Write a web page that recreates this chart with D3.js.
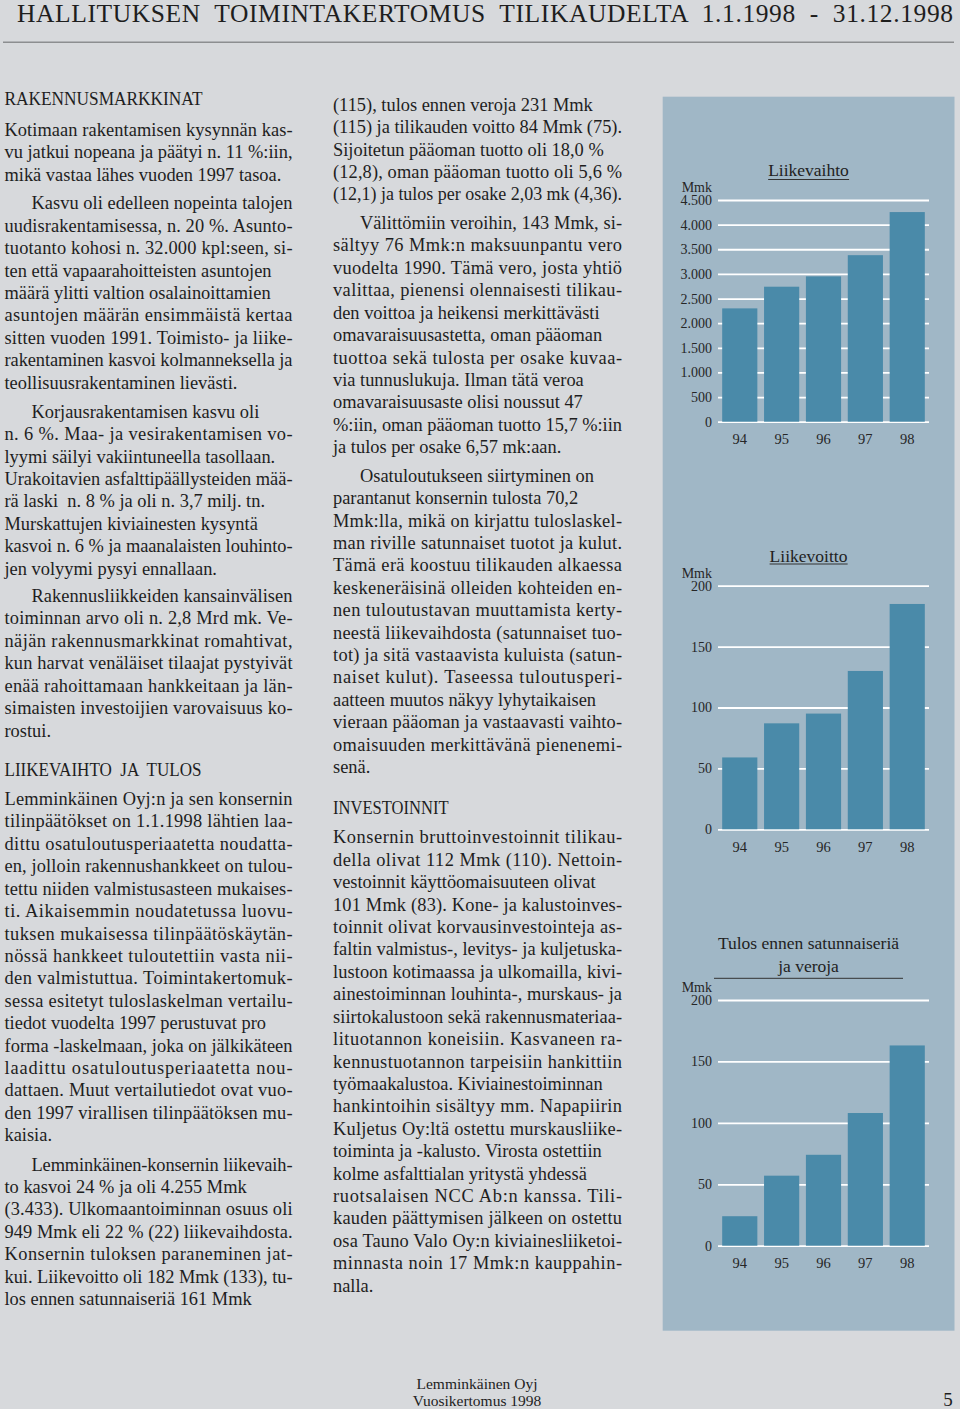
<!DOCTYPE html>
<html><head><meta charset="utf-8">
<script src="https://cdn.jsdelivr.net/npm/d3@7"></script>
<style>html,body{margin:0;padding:0;background:#d7d9dc;}svg{display:block}</style>
</head><body><svg id="c" width="960" height="1409"></svg>
<script>
// ---------- chart data ----------
const years = ["94", "95", "96", "97", "98"];
const liikevaihto = [2300, 2740, 2950, 3380, 4255];
const liikevoitto = [59, 87, 95, 130, 185];
const tulosEnnen = [24, 57, 74, 108, 163];
const ticksTurnover = [0, 500, 1000, 1500, 2000, 2500, 3000, 3500, 4000, 4500];
const tickLabelsTurnover = ["0", "500", "1.000", "1.500", "2.000", "2.500", "3.000", "3.500", "4.000", "4.500"];
const ticksProfit = [0, 50, 100, 150, 200];
const tickLabelsProfit = ["0", "50", "100", "150", "200"];
const unitLabel = "Mmk";
const titleTurnover = ["Liikevaihto"];
const titleProfit = ["Liikevoitto"];
const titleResult = ["Tulos ennen satunnaiseriä", "ja veroja"];

// ---------- page text ----------
const pageTitle = "HALLITUKSEN  TOIMINTAKERTOMUS  TILIKAUDELTA  1.1.1998  -  31.12.1998";
const footerLines = ["Lemminkäinen Oyj", "Vuosikertomus 1998"];
const pageNumber = "5";
const heading1 = "RAKENNUSMARKKINAT";
const heading2 = "LIIKEVAIHTO  JA  TULOS";
const heading3 = "INVESTOINNIT";
const c1p1 = ["Kotimaan rakentamisen kysynnän kas-", "vu jatkui nopeana ja päätyi n. 11 %:iin,", "mikä vastaa lähes vuoden 1997 tasoa."];
const c1p2 = ["Kasvu oli edelleen nopeinta talojen", "uudisrakentamisessa, n. 20 %. Asunto-", "tuotanto kohosi n. 32.000 kpl:seen, si-", "ten että vapaarahoitteisten asuntojen", "määrä ylitti valtion osalainoittamien", "asuntojen määrän ensimmäistä kertaa", "sitten vuoden 1991. Toimisto- ja liike-", "rakentaminen kasvoi kolmanneksella ja", "teollisuusrakentaminen lievästi."];
const c1p3 = ["Korjausrakentamisen kasvu oli", "n. 6 %. Maa- ja vesirakentamisen vo-", "lyymi säilyi vakiintuneella tasollaan.", "Urakoitavien asfalttipäällysteiden mää-", "rä laski  n. 8 % ja oli n. 3,7 milj. tn.", "Murskattujen kiviainesten kysyntä", "kasvoi n. 6 % ja maanalaisten louhinto-", "jen volyymi pysyi ennallaan."];
const c1p4 = ["Rakennusliikkeiden kansainvälisen", "toiminnan arvo oli n. 2,8 Mrd mk. Ve-", "näjän rakennusmarkkinat romahtivat,", "kun harvat venäläiset tilaajat pystyivät", "enää rahoittamaan hankkeitaan ja län-", "simaisten investoijien varovaisuus ko-", "rostui."];
const c1p5 = ["Lemminkäinen Oyj:n ja sen konsernin", "tilinpäätökset on 1.1.1998 lähtien laa-", "dittu osatuloutusperiaatetta noudatta-", "en, jolloin rakennushankkeet on tulou-", "tettu niiden valmistusasteen mukaises-", "ti. Aikaisemmin noudatetussa luovu-", "tuksen mukaisessa tilinpäätöskäytän-", "nössä hankkeet tuloutettiin vasta nii-", "den valmistuttua. Toimintakertomuk-", "sessa esitetyt tuloslaskelman vertailu-", "tiedot vuodelta 1997 perustuvat pro", "forma -laskelmaan, joka on jälkikäteen", "laadittu osatuloutusperiaatetta nou-", "dattaen. Muut vertailutiedot ovat vuo-", "den 1997 virallisen tilinpäätöksen mu-", "kaisia."];
const c1p6 = ["Lemminkäinen-konsernin liikevaih-", "to kasvoi 24 % ja oli 4.255 Mmk", "(3.433). Ulkomaantoiminnan osuus oli", "949 Mmk eli 22 % (22) liikevaihdosta.", "Konsernin tuloksen paraneminen jat-", "kui. Liikevoitto oli 182 Mmk (133), tu-", "los ennen satunnaiseriä 161 Mmk"];
const c2p1 = ["(115), tulos ennen veroja 231 Mmk", "(115) ja tilikauden voitto 84 Mmk (75).", "Sijoitetun pääoman tuotto oli 18,0 %", "(12,8), oman pääoman tuotto oli 5,6 %", "(12,1) ja tulos per osake 2,03 mk (4,36)."];
const c2p2 = ["Välittömiin veroihin, 143 Mmk, si-", "sältyy 76 Mmk:n maksuunpantu vero", "vuodelta 1990. Tämä vero, josta yhtiö", "valittaa, pienensi olennaisesti tilikau-", "den voittoa ja heikensi merkittävästi", "omavaraisuusastetta, oman pääoman", "tuottoa sekä tulosta per osake kuvaa-", "via tunnuslukuja. Ilman tätä veroa", "omavaraisuusaste olisi noussut 47", "%:iin, oman pääoman tuotto 15,7 %:iin", "ja tulos per osake 6,57 mk:aan."];
const c2p3 = ["Osatuloutukseen siirtyminen on", "parantanut konsernin tulosta 70,2", "Mmk:lla, mikä on kirjattu tuloslaskel-", "man riville satunnaiset tuotot ja kulut.", "Tämä erä koostuu tilikauden alkaessa", "keskeneräisinä olleiden kohteiden en-", "nen tuloutustavan muuttamista kerty-", "neestä liikevaihdosta (satunnaiset tuo-", "tot) ja sitä vastaavista kuluista (satun-", "naiset kulut). Taseessa tuloutusperi-", "aatteen muutos näkyy lyhytaikaisen", "vieraan pääoman ja vastaavasti vaihto-", "omaisuuden merkittävänä pienenemi-", "senä."];
const c2p4 = ["Konsernin bruttoinvestoinnit tilikau-", "della olivat 112 Mmk (110). Nettoin-", "vestoinnit käyttöomaisuuteen olivat", "101 Mmk (83). Kone- ja kalustoinves-", "toinnit olivat korvausinvestointeja as-", "faltin valmistus-, levitys- ja kuljetuska-", "lustoon kotimaassa ja ulkomailla, kivi-", "ainestoiminnan louhinta-, murskaus- ja", "siirtokalustoon sekä rakennusmateriaa-", "lituotannon koneisiin. Kasvaneen ra-", "kennustuotannon tarpeisiin hankittiin", "työmaakalustoa. Kiviainestoiminnan", "hankintoihin sisältyy mm. Napapiirin", "Kuljetus Oy:ltä ostettu murskausliike-", "toiminta ja -kalusto. Virosta ostettiin", "kolme asfalttialan yritystä yhdessä", "ruotsalaisen NCC Ab:n kanssa. Tili-", "kauden päättymisen jälkeen on ostettu", "osa Tauno Valo Oy:n kiviainesliiketoi-", "minnasta noin 17 Mmk:n kauppahin-", "nalla."];

// ---------- drawing ----------
const FONT = "'Liberation Serif','Times New Roman',Times,serif";
const INK = "#1e1e1e";
const svg = d3.select("#c");
svg.append("rect").attr("width", 960).attr("height", 1409).attr("fill", "#d7d9dc");

// page header
svg.append("text").attr("x", 17).attr("y", 22).attr("font-family", FONT).attr("font-size", 25.5)
  .attr("fill", INK).style("white-space", "pre").attr("textLength", 936).attr("lengthAdjust", "spacing")
  .text(pageTitle);
svg.append("line").attr("x1", 3).attr("x2", 954).attr("y1", 42.3).attr("y2", 42.3)
  .attr("stroke", "#8c8e90").attr("stroke-width", 1.6);

const BODY = 18.4, PITCH = 22.42;
function para(lines, x, width, y0, indent) {
  const g = svg.append("g").attr("font-family", FONT).attr("font-size", BODY).attr("fill", INK);
  lines.forEach((t, i) => {
    const xi = x + (i === 0 ? indent : 0);
    const avail = width - (xi - x);
    const el = g.append("text").attr("x", xi).attr("y", y0 + i * PITCH).style("white-space", "pre").text(t);
    const w = el.node().getComputedTextLength();
    const last = i === lines.length - 1;
    if (!last && (t.endsWith("-") || w > avail * 0.94)) {
      el.attr("textLength", avail).attr("lengthAdjust", w > avail * 1.03 ? "spacingAndGlyphs" : "spacing");
    } else if (w > avail) {
      el.attr("textLength", avail).attr("lengthAdjust", "spacingAndGlyphs");
    }
  });
}
function heading(t, x, y, len) {
  svg.append("text").attr("x", x).attr("y", y).attr("font-family", FONT).attr("font-size", 18)
    .attr("fill", INK).style("white-space", "pre").attr("textLength", len).attr("lengthAdjust", "spacingAndGlyphs").text(t);
}
const C1X = 4.5, C1W = 288, C2X = 333, C2W = 289, IND = 27;
heading(heading1, C1X, 105, 198);
para(c1p1, C1X, C1W, 136, 0);
para(c1p2, C1X, C1W, 209.3, IND);
para(c1p3, C1X, C1W, 417.7, IND);
para(c1p4, C1X, C1W, 602, IND);
heading(heading2, C1X, 776, 197);
para(c1p5, C1X, C1W, 805, 0);
para(c1p6, C1X, C1W, 1170.5, IND);
para(c2p1, C2X, C2W, 110.7, 0);
para(c2p2, C2X, C2W, 229, IND);
para(c2p3, C2X, C2W, 481.7, IND);
heading(heading3, C2X, 814, 115.5);
para(c2p4, C2X, C2W, 843.3, 0);

// footer
svg.append("g").attr("font-family", FONT).attr("font-size", 15.5).attr("fill", INK).attr("text-anchor", "middle")
  .selectAll("text").data(footerLines).join("text")
  .attr("x", 477).attr("y", (d, i) => 1389 + i * 16.5).text(d => d);
svg.append("text").attr("x", 948).attr("y", 1406).attr("text-anchor", "middle").attr("font-family", FONT)
  .attr("font-size", 19).attr("fill", INK).text(pageNumber);

// chart panel
svg.append("rect").attr("x", 662.7).attr("y", 96.7).attr("width", 291.8).attr("height", 1234)
  .attr("fill", "#a0b7c6");

const GX0 = 718, GX1 = 929;
const x = d3.scaleBand().domain(years).range([GX0, GX1]).paddingInner(0.16).paddingOuter(0.1);

function chart(cfg) {
  const y = d3.scaleLinear().domain([0, cfg.max]).range([cfg.y0, cfg.yTop]);
  const g = svg.append("g").attr("font-family", FONT).attr("fill", "#262626");
  // grid + y tick labels
  const ax = d3.axisLeft(y).tickValues(cfg.ticks).tickFormat((d, i) => cfg.labels[i])
    .tickSizeInner(-(GX1 - GX0)).tickSizeOuter(0).tickPadding(6);
  const ag = g.append("g").attr("transform", `translate(${GX0},0)`).call(ax);
  ag.select(".domain").remove();
  ag.selectAll(".tick line").attr("stroke", "#ffffff").attr("stroke-width", 1.8);
  ag.selectAll(".tick text").attr("font-family", FONT).attr("font-size", 14).attr("fill", "#262626");
  // bars
  g.append("g").selectAll("rect").data(cfg.values).join("rect")
    .attr("x", (d, i) => x(years[i])).attr("width", x.bandwidth())
    .attr("y", d => y(d)).attr("height", d => y(0) - y(d))
    .attr("fill", "#4a8aa9");
  // x labels
  const bx = d3.axisBottom(x).tickSize(0).tickPadding(12.5);
  const bg = g.append("g").attr("transform", `translate(0,${cfg.y0})`).call(bx);
  bg.select(".domain").remove();
  bg.selectAll(".tick text").attr("font-family", FONT).attr("font-size", 14.5).attr("fill", "#262626");
  // unit
  g.append("text").attr("x", 712).attr("y", y(cfg.max) - 8).attr("text-anchor", "end")
    .attr("font-size", 14).text(unitLabel);
  // title
  const tt = g.append("g").attr("font-size", 17.5).attr("fill", "#222").attr("text-anchor", "middle");
  cfg.title.forEach((t, i) => {
    tt.append("text").attr("x", 808.5).attr("y", cfg.titleY + i * 22.7).text(t);
  });
  let ux0 = cfg.ul ? cfg.ul[0] : null, ux1 = cfg.ul ? cfg.ul[1] : null;
  if (!cfg.ul) {
    const bb = tt.select("text").node().getBBox();
    ux0 = bb.x; ux1 = bb.x + bb.width;
  }
  tt.append("line").attr("x1", ux0).attr("x2", ux1).attr("y1", cfg.ulY).attr("y2", cfg.ulY)
    .attr("stroke", "#333").attr("stroke-width", 1);
}
chart({ values: liikevaihto, max: 4500, ticks: ticksTurnover, labels: tickLabelsTurnover,
        y0: 421.7, yTop: 200, title: titleTurnover, titleY: 176, ulY: 179.5 });
chart({ values: liikevoitto, max: 200, ticks: ticksProfit, labels: tickLabelsProfit,
        y0: 829.3, yTop: 585.7, title: titleProfit, titleY: 561.5, ulY: 564 });
chart({ values: tulosEnnen, max: 200, ticks: ticksProfit, labels: tickLabelsProfit,
        y0: 1245.7, yTop: 1000, title: titleResult, titleY: 949, ulY: 978.3, ul: [714, 903] });
</script></body></html>
